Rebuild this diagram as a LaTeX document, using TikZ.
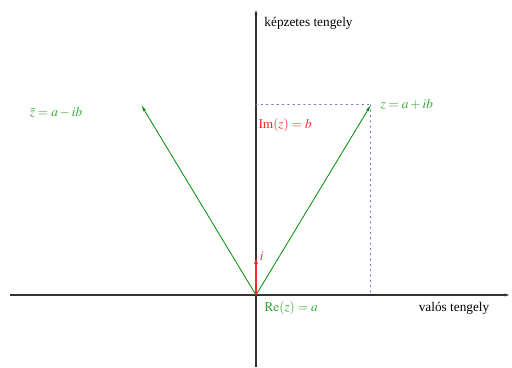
\documentclass[tikz,border=0pt]{standalone}
\usepackage{mathptmx}
\usepackage{fontspec}
\setmainfont{Liberation Serif}
\usepackage{tkz-euclide}
\usetikzlibrary{arrows.meta}
\definecolor{VecClr}{rgb}{0,0.55,0}
\definecolor{LblClr}{rgb}{0.2,0.65,0.2}
\definecolor{ImClr}{rgb}{1,0.15,0.15}
\definecolor{DotClr}{rgb}{0.4,0.4,0.8}

\begin{document}
\begin{tikzpicture}[>={Latex[length=5pt,width=2.2pt]}]
\useasboundingbox (-6.773,-1.905) rectangle (6.773,7.805);
\tkzDefPoints{0/0/O,-6.51/0/L,6.75/0/R,0/-1.905/D,0/7.59/U,3.04/5.03/Z,-3.04/5.03/W,0/1.0/I,0/5.03/Y,3.04/0/X}

% axes
\draw[line width=0.8pt,color=black!80,->] (L) -- (R);
\draw[line width=0.8pt,color=black!80,->] (D) -- (U);

% dotted projections
\tkzDrawSegments[color=DotClr,line width=0.8pt,dash pattern=on 0.8pt off 3.2pt](Y,Z Z,X)

% vectors
\draw[color=VecClr,line width=0.6pt,->] (O) -- (Z);
\draw[color=VecClr,line width=0.6pt,->] (O) -- (W);
\draw[color=ImClr,line width=1pt,-{Latex[length=5pt,width=3pt]}] (O) -- (I);

% labels
\node[anchor=west,color=LblClr] (zlbl) at (3.17,5.03) {$z = a + ib$};
\node[color=LblClr] (wlbl) at (-5.29,4.84) {$\bar{z} = a - ib$};
\node[color=ImClr] (imlbl) at (0.77,4.5) {$\mathrm{Im}(z) = b$};
\node[color=LblClr] (relbl) at (0.93,-0.35) {$\mathrm{Re}(z) = a$};
\node[color=ImClr] (ilbl) at (0.15,1.02) {$i$};
\node (xlbl) at (5.24,-0.35) {val\'os tengely};
\node[anchor=west] (ylbl) at (0.1,7.2) {k\'epzetes tengely};

\end{tikzpicture}
\end{document}
